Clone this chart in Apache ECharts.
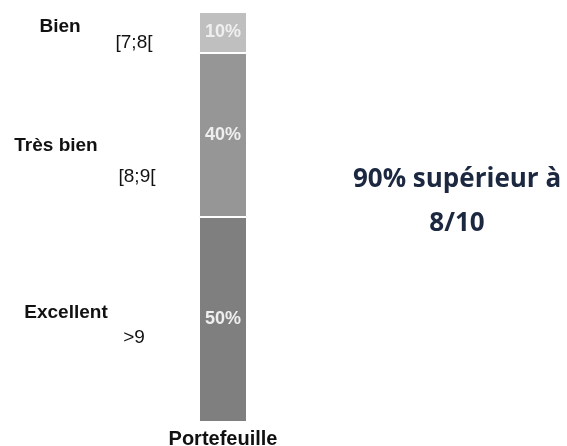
<!DOCTYPE html>
<html>
<head>
<meta charset="utf-8">
<script src="https://cdn.jsdelivr.net/npm/echarts@6/dist/echarts.min.js"></script>
<style>
  html, body { margin: 0; padding: 0; background: #fff; }
  #main { width: 567px; height: 446px; }
</style>
</head>
<body>
<div id="main"></div>
<script>
var categories = ['Portefeuille'];
// bottom to top
var levels = ['Excellent', 'Très bien', 'Bien'];
var ranges = ['>9', '[8;9[', '[7;8['];
var shares = [50, 40, 10];
var colors = ['#7f7f7f', '#969696', '#bfbfbf'];

var myChart = echarts.init(document.getElementById('main'));

var series = levels.map(function (name, i) {
    return {
        name: name,
        type: 'bar',
        stack: 'total',
        barWidth: '100%',
        data: [shares[i]],
        itemStyle: { color: colors[i], borderColor: '#fff', borderWidth: 1 },
        label: {
            show: true,
            position: 'inside',
            formatter: '{c}%',
            color: '#efefef',
            fontFamily: 'Liberation Sans',
            fontWeight: 'bold',
            fontSize: 18
        },
        silent: true
    };
});

// text positions of the annotations on the left (x center, y center)
var nameXY = [[66, 313], [56, 146], [60, 27]];
var rangeXY = [[134, 338], [137, 177], [134, 43]];

var graphics = [];
levels.forEach(function (name, i) {
    graphics.push({
        type: 'text', x: nameXY[i][0], y: nameXY[i][1],
        style: {
            text: name, fill: '#111', font: 'bold 19px "Liberation Sans"',
            textAlign: 'center', textVerticalAlign: 'middle'
        }
    });
    graphics.push({
        type: 'text', x: rangeXY[i][0], y: rangeXY[i][1],
        style: {
            text: ranges[i], fill: '#111', font: '19px "Liberation Sans"',
            textAlign: 'center', textVerticalAlign: 'middle'
        }
    });
});
graphics.push({
    type: 'text', x: 457, y: 202,
    style: {
        text: '90% supérieur à\n8/10', fill: '#1c2740',
        font: 'bold 26px "Open Sans"', lineHeight: 44,
        textAlign: 'center', textVerticalAlign: 'middle'
    }
});

var option = {
    animation: false,
    grid: { left: 199, width: 48, top: 12, bottom: 24, outerBoundsMode: 'none', containLabel: false },
    xAxis: {
        type: 'category',
        data: categories,
        axisLine: { show: false },
        axisTick: { show: false },
        axisLabel: {
            color: '#111', fontFamily: 'Liberation Sans', fontWeight: 'bold',
            fontSize: 20, margin: 7
        }
    },
    yAxis: { type: 'value', min: 0, max: 100, show: false },
    series: series,
    graphic: graphics
};

myChart.setOption(option);
</script>
</body>
</html>
